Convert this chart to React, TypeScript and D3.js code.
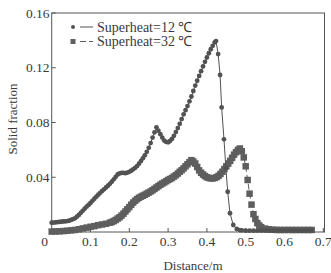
import React from "react";
import * as d3 from "d3";

const W = 331;
const H = 273;

const xTicks = [0, 0.1, 0.2, 0.3, 0.4, 0.5, 0.6, 0.7];
const yTicks = [0, 0.04, 0.08, 0.12, 0.16];
const xTickLabels = ["0", "0.1", "0.2", "0.3", "0.4", "0.5", "0.6", "0.7"];
const yTickLabels = ["0", "0.04", "0.08", "0.12", "0.16"];
const seriesNames = ["Superheat=12 \u2103", "Superheat=32 \u2103"];

// Superheat = 12 °C
const xs12 = [
  0.0, 0.005, 0.01, 0.015, 0.02, 0.025, 0.03, 0.035, 0.04, 0.045,
  0.05, 0.055, 0.06, 0.065, 0.07, 0.075, 0.08, 0.085, 0.09, 0.095,
  0.1, 0.105, 0.11, 0.115, 0.12, 0.125, 0.13, 0.135, 0.14, 0.145,
  0.15, 0.155, 0.16, 0.165, 0.17, 0.175, 0.18, 0.185, 0.19, 0.195,
  0.2, 0.205, 0.21, 0.215, 0.22, 0.225, 0.23, 0.235, 0.24, 0.245,
  0.25, 0.255, 0.26, 0.265, 0.27, 0.275, 0.28, 0.285, 0.29, 0.295,
  0.3, 0.305, 0.31, 0.315, 0.32, 0.325, 0.33, 0.335, 0.34, 0.345,
  0.35, 0.355, 0.36, 0.365, 0.37, 0.375, 0.38, 0.385, 0.39, 0.395,
  0.4, 0.405, 0.41, 0.415, 0.42, 0.4235,
  0.429, 0.434, 0.438, 0.444, 0.449, 0.4536, 0.4595, 0.468, 0.477, 0.485,
  0.49, 0.5, 0.51, 0.52, 0.53, 0.54, 0.55, 0.56, 0.57, 0.58,
  0.59, 0.6, 0.61, 0.62, 0.63, 0.64, 0.65, 0.66, 0.67,
];
const ys12 = [
  0.0068, 0.0069, 0.0071, 0.0072, 0.0074, 0.0075, 0.0077, 0.0078, 0.008, 0.0083,
  0.0088, 0.0094, 0.01, 0.0112, 0.0125, 0.014, 0.0155, 0.017, 0.0185, 0.0198,
  0.0212, 0.0228, 0.0243, 0.0258, 0.0272, 0.0286, 0.03, 0.0312, 0.0325, 0.0338,
  0.0352, 0.0368, 0.0385, 0.0403, 0.042, 0.0428, 0.0432, 0.0432, 0.043, 0.0434,
  0.044, 0.0448, 0.0458, 0.0469, 0.0482, 0.0499, 0.0518, 0.0538, 0.056, 0.0586,
  0.0615, 0.065, 0.069, 0.0728, 0.0765, 0.074, 0.0715, 0.069, 0.0668, 0.0658,
  0.0655, 0.0665, 0.068, 0.0703, 0.073, 0.0759, 0.079, 0.0825, 0.086, 0.089,
  0.092, 0.0955, 0.099, 0.103, 0.107, 0.1105, 0.114, 0.1175, 0.121, 0.1243,
  0.1275, 0.1306, 0.1335, 0.136, 0.1385, 0.1395,
  0.13, 0.1147, 0.091, 0.0677, 0.0465, 0.0294, 0.0137, 0.0051, 0.0022, 0.0014,
  0.0012, 0.001, 0.001, 0.001, 0.001, 0.001, 0.001, 0.001, 0.001, 0.001,
  0.001, 0.001, 0.001, 0.001, 0.001, 0.001, 0.001, 0.001, 0.001,
];

// Superheat = 32 °C
const xs32 = [
  0.0, 0.01, 0.02, 0.03, 0.04, 0.05, 0.06, 0.07, 0.08, 0.09,
  0.1, 0.11, 0.12, 0.13, 0.14, 0.15, 0.155, 0.16, 0.165, 0.17,
  0.175, 0.18, 0.185, 0.19, 0.195, 0.2, 0.205, 0.21, 0.215, 0.22,
  0.225, 0.23, 0.235, 0.24, 0.245, 0.25, 0.255, 0.26, 0.265, 0.27,
  0.275, 0.28, 0.285, 0.29, 0.295, 0.3, 0.305, 0.31, 0.315, 0.32,
  0.325, 0.33, 0.335, 0.34, 0.345, 0.35, 0.355, 0.36, 0.365, 0.37,
  0.375, 0.38, 0.385, 0.39, 0.395, 0.4, 0.405, 0.41, 0.415, 0.42,
  0.425, 0.43, 0.435, 0.44, 0.445, 0.45, 0.455, 0.46, 0.465, 0.47,
  0.475, 0.48, 0.485, 0.49, 0.495, 0.5, 0.505, 0.51, 0.515, 0.52,
  0.525, 0.53, 0.535, 0.54, 0.55, 0.56, 0.57, 0.58, 0.59, 0.6,
  0.61, 0.62, 0.63, 0.64, 0.65, 0.66, 0.67,
];
const ys32 = [
  0.0003, 0.0004, 0.0005, 0.0007, 0.0009, 0.0012, 0.0015, 0.002, 0.0026, 0.0032,
  0.0038, 0.0043, 0.005, 0.0055, 0.006, 0.0068, 0.0073, 0.008, 0.0088, 0.0098,
  0.0108, 0.012, 0.0134, 0.015, 0.0166, 0.0182, 0.0199, 0.0215, 0.0228, 0.024,
  0.025, 0.0258, 0.0265, 0.0272, 0.028, 0.0288, 0.0296, 0.0305, 0.0315, 0.0325,
  0.0335, 0.0345, 0.0354, 0.0362, 0.0371, 0.038, 0.0387, 0.0395, 0.0405, 0.0415,
  0.0427, 0.044, 0.0452, 0.0465, 0.048, 0.0495, 0.051, 0.0525, 0.0515, 0.05,
  0.0475, 0.045, 0.0433, 0.042, 0.0409, 0.04, 0.0395, 0.0392, 0.0392, 0.0395,
  0.0401, 0.041, 0.0424, 0.044, 0.046, 0.048, 0.05, 0.052, 0.0542, 0.0565,
  0.0583, 0.06, 0.061, 0.059, 0.0545, 0.048, 0.038, 0.028, 0.02, 0.013,
  0.0095, 0.0065, 0.0048, 0.0035, 0.0025, 0.002, 0.0017, 0.0015, 0.0015, 0.0015,
  0.0015, 0.0015, 0.0015, 0.0015, 0.0015, 0.0015, 0.0015,
];

const FONT = "'Liberation Serif', 'Times New Roman', serif";
const TEXT = "#3a3a3a";
const AXIS = "#555";
const C1 = "#525252";
const C2 = "#5e5e5e";

export default function App() {
  const x = d3.scaleLinear().domain([0, 0.7]).range([51.7, 323.3]);
  const y = d3.scaleLinear().domain([0, 0.16]).range([232, 13]);
  const right = 324.5;

  const pts12 = xs12.map((v, i) => [v, ys12[i]] as [number, number]);
  const pts32 = xs32.map((v, i) => [v, ys32[i]] as [number, number]);
  const line = d3
    .line<[number, number]>()
    .x((d) => x(d[0]))
    .y((d) => y(d[1]));

  const sq = 6.5;

  return (
    <svg
      width={W}
      height={H}
      style={{ position: "absolute", left: 0, top: 0, background: "#fff" }}
      fontFamily={FONT}
    >
      <rect x={0} y={0} width={W} height={H} fill="#fff" />
      {/* frame */}
      <rect
        x={x(0)}
        y={y(0.16)}
        width={right - x(0)}
        height={y(0) - y(0.16)}
        fill="none"
        stroke={AXIS}
        strokeWidth={1}
      />
      {/* x ticks */}
      {xTicks.map((t, i) => (
        <g key={"xt" + i}>
          {i > 0 && (
            <line x1={x(t)} x2={x(t)} y1={y(0)} y2={y(0) - 4} stroke={AXIS} />
          )}
          <text
            x={x(t) + (i === 0 ? -7 : 0)}
            y={246}
            textAnchor="middle"
            fontSize={13.5}
            fill={TEXT}
          >
            {xTickLabels[i]}
          </text>
        </g>
      ))}
      {/* y ticks */}
      {yTicks.map((t, i) => (
        <g key={"yt" + i}>
          {i > 0 && (
            <line x1={x(0)} x2={x(0) + 4} y1={y(t)} y2={y(t)} stroke={AXIS} />
          )}
          {i > 0 && (
            <text
              x={49.5}
              y={y(t)}
              dy="0.35em"
              textAnchor="end"
              fontSize={13.5}
              fill={TEXT}
            >
              {yTickLabels[i]}
            </text>
          )}
        </g>
      ))}
      {/* axis titles */}
      <text x={193} y={270} textAnchor="middle" fontSize={13} fill={TEXT}>
        Distance/m
      </text>
      <text
        transform={`translate(17,119) rotate(-90)`}
        textAnchor="middle"
        fontSize={13}
        fill={TEXT}
      >
        Solid fraction
      </text>

      {/* series 32 */}
      <path
        d={line(pts32) || ""}
        fill="none"
        stroke={C2}
        strokeWidth={1}
        strokeDasharray="6,3"
      />
      {pts32.map((d, i) => (
        <rect
          key={"s" + i}
          x={x(d[0]) - sq / 2}
          y={y(d[1]) - sq / 2}
          width={sq}
          height={sq}
          fill={C2}
        />
      ))}
      {/* series 12 */}
      <path d={line(pts12) || ""} fill="none" stroke={C1} strokeWidth={1} />
      {pts12.map((d, i) => (
        <circle key={"c" + i} cx={x(d[0])} cy={y(d[1])} r={2.4} fill={C1} />
      ))}

      {/* legend */}
      <circle cx={73} cy={27} r={2} fill={C1} />
      <line x1={80} x2={93} y1={27} y2={27} stroke={C1} strokeWidth={1} />
      <text x={97} y={27} dy="0.35em" fontSize={14} fill={TEXT}>
        {seriesNames[0]}
      </text>
      <rect x={70.5} y={39} width={5} height={5} fill={C2} />
      <line
        x1={80}
        x2={93}
        y1={41.5}
        y2={41.5}
        stroke={C2}
        strokeWidth={1}
        strokeDasharray="6,3"
      />
      <text x={97} y={41.5} dy="0.35em" fontSize={14} fill={TEXT}>
        {seriesNames[1]}
      </text>
    </svg>
  );
}
